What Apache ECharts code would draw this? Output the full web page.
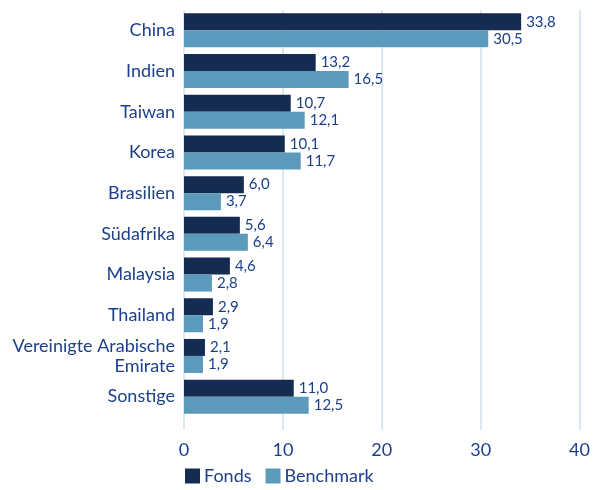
<!DOCTYPE html>
<html><head><meta charset="utf-8">
<script src="https://cdn.jsdelivr.net/npm/echarts@6/dist/echarts.min.js"></script>
<style>html,body{margin:0;padding:0;background:#fff}#c{width:593px;height:490px}</style>
</head><body><div id="c"></div>
<script>
const categories = ["China","Indien","Taiwan","Korea","Brasilien","Südafrika","Malaysia","Thailand","Vereinigte Arabische\nEmirate","Sonstige"];
const fonds = [33.8,13.2,10.7,10.1,6.0,5.6,4.6,2.9,2.1,11.0];
const benchmark = [30.5,16.5,12.1,11.7,3.7,6.4,2.8,1.9,1.9,12.5];
const xTicks = [0,10,20,30,40];

const txt = '#1c3f8c';
const fnt = 'Lato, "Open Sans", sans-serif';
const fmt = p => p.value.toFixed(1).replace('.', ',');
const chart = echarts.init(document.getElementById('c'));
chart.setOption({
  animation:false,
  textStyle:{fontFamily:fnt},
  grid:[
    {left:184,right:10,top:10,height:420},
    {left:184,right:10,top:10,height:407}
  ],
  xAxis:[
    {gridIndex:0,type:'value',min:xTicks[0],max:xTicks[xTicks.length-1],interval:10,
     axisLine:{show:false},axisTick:{show:false},
     axisLabel:{color:txt,fontSize:18,fontFamily:fnt,margin:11},
     splitLine:{show:true,lineStyle:{color:'#cfe2ec',width:1.5}}},
    {gridIndex:1,type:'value',min:0,max:40,show:false,splitLine:{show:false}}
  ],
  yAxis:[
    {gridIndex:0,type:'category',data:[''],show:false},
    {gridIndex:1,type:'category',inverse:true,data:categories,
     axisLine:{show:false},axisTick:{show:false},
     axisLabel:{color:txt,fontSize:18,fontFamily:fnt,margin:9,lineHeight:20}}
  ],
  legend:{bottom:0,left:180,itemWidth:15,itemHeight:15,itemGap:14,icon:'rect',
    textStyle:{color:txt,fontSize:18,fontFamily:fnt,padding:[0,0,0,-1]},
    data:['Fonds','Benchmark']},
  series:[
    {name:'Fonds',type:'bar',xAxisIndex:1,yAxisIndex:1,data:fonds,barWidth:17,barGap:'0%',
     itemStyle:{color:'#152b52'},
     label:{show:true,position:'right',distance:5,color:txt,fontSize:15,fontFamily:fnt,formatter:fmt}},
    {name:'Benchmark',type:'bar',xAxisIndex:1,yAxisIndex:1,data:benchmark,barWidth:17,
     itemStyle:{color:'#5b9aba'},
     label:{show:true,position:'right',distance:5,color:txt,fontSize:15,fontFamily:fnt,formatter:fmt}}
  ]
});
</script></body></html>
